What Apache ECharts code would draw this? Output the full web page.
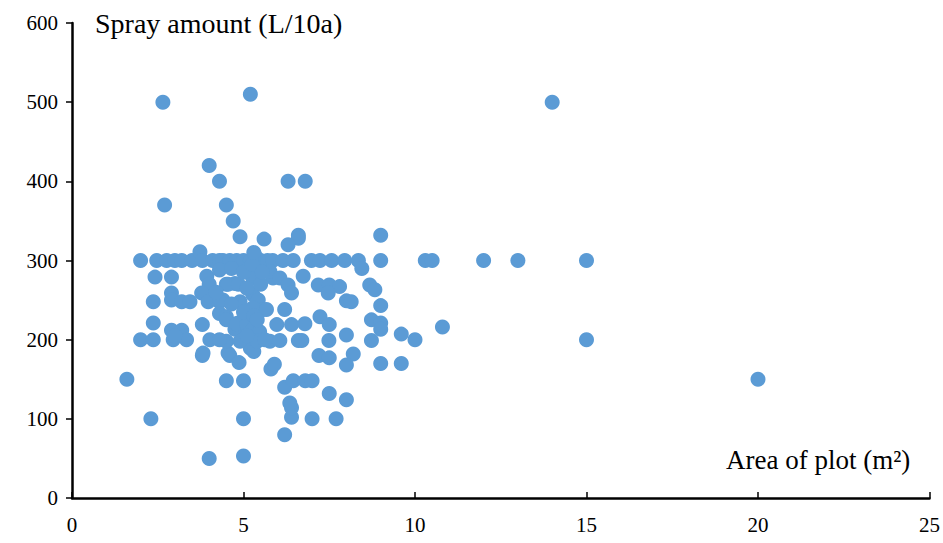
<!DOCTYPE html>
<html>
<head>
<meta charset="utf-8">
<script src="https://cdn.jsdelivr.net/npm/echarts@6/dist/echarts.min.js"></script>
<style>html,body{margin:0;padding:0;background:#fff;}#c{width:943px;height:543px;}</style>
</head>
<body>
<div id="c"></div>
<script>
// Area of plot (m2)
const areaValues = [
  1.6, 2.3, 2.65, 5.2, 14, 4.0, 4.3, 6.3, 6.8, 2.7, 4.5, 4.7, 4.9, 5.6, 6.6, 6.6, 9.0, 6.3,
  20, 15, 15, 13, 12, 10.3, 10.5, 10.8, 10.0, 9.6, 9.6, 9.0, 4.0, 5.0, 5.0, 6.2, 7.0, 7.7,
  6.4, 6.4, 6.35, 8.0, 7.5, 6.2, 6.45, 6.8, 7.0, 4.5, 5.0, 5.8, 5.9, 7.2, 7.5, 8.2, 8.0,
  3.8, 4.6, 4.87, 5.2, 5.3, 3.82, 4.55,
  2.0, 2.47, 2.76, 3.0, 3.2, 3.5, 3.73, 3.8, 4.1, 4.3, 4.4, 4.6, 4.8, 5.0, 5.2, 5.35, 5.5, 5.7,
  5.85, 6.15, 6.45, 6.98, 7.23, 7.57, 7.95, 8.35, 9.0, 8.45,
  2.42, 2.9, 3.93, 4.5, 4.75, 4.0, 4.55, 4.85, 5.27, 5.86, 5.77, 6.06, 6.74, 6.3, 6.4, 7.18,
  7.5, 7.8, 7.47, 8.68, 8.83,
  2.37, 2.9, 2.9, 3.2, 3.44, 3.78, 3.97, 4.4, 4.3, 4.9, 5.27, 5.43, 8.0, 8.14, 9.0, 5.57,
  5.27, 5.67, 6.2,
  2.37, 2.9, 3.2, 3.8, 4.3, 4.5, 4.85, 4.75, 4.5, 4.8, 5.1, 5.27, 5.47, 5.97, 6.4, 6.79,
  7.23, 7.5, 8.0, 8.73, 9.0, 9.0,
  2.0, 2.37, 2.95, 3.34, 4.02, 4.5, 4.9, 5.4, 5.77, 5.62, 6.06, 6.6, 6.7, 7.49, 8.73, 3.0, 4.3,
  4.3, 4.65, 5.0, 5.1, 5.5, 5.0, 5.3, 4.2, 4.65, 5.1, 5.4, 5.25, 5.3, 5.55
];
// Spray amount (L/10a)
const sprayValues = [
  150, 100, 500, 510, 500, 420, 400, 400, 400, 370, 370, 350, 330, 327, 332, 328, 332, 320,
  150, 300, 200, 300, 300, 300, 300, 216, 200, 207, 170, 170, 50, 53, 100, 80, 100, 100,
  102, 114, 120, 124, 132, 140, 148, 148, 148, 148, 148, 163, 169, 180, 177, 182, 168,
  180, 180, 171, 189, 185, 183, 183,
  300, 300, 300, 300, 300, 300, 311, 300, 300, 300, 300, 300, 300, 300, 300, 305, 300, 300,
  300, 300, 300, 300, 300, 300, 300, 300, 300, 290,
  279, 279, 280, 270, 271, 270, 270, 270, 278, 278, 286, 278, 280, 269, 259, 269,
  269, 267, 259, 269, 263,
  248, 259, 250, 248, 248, 259, 248, 250, 248, 248, 257, 250, 249, 248, 243, 238,
  240, 238, 238,
  221, 212, 212, 219, 233, 229, 221, 213, 225, 220, 219, 213, 210, 219, 219, 220,
  229, 219, 206, 225, 221, 213,
  200, 200, 200, 200, 200, 198, 198, 198, 198, 200, 199, 199, 199, 199, 199, 205, 200,
  288, 290, 285, 265, 270, 235, 230, 260, 245, 205, 225, 295, 310, 285
];
const xTicks = [0, 25, 5];
const yTicks = [0, 600, 100];
const yTitle = 'Spray amount (L/10a)';
const xTitle = 'Area of plot (m²)';

const points = areaValues.map((x, i) => [x, sprayValues[i]]);
const font = 'Liberation Serif';

const chart = echarts.init(document.getElementById('c'), null, {renderer: 'svg'});
chart.setOption({
  animation: false,
  backgroundColor: '#fff',
  textStyle: {fontFamily: font},
  grid: {left: 72, right: 13, top: 23, bottom: 45, containLabel: false},
  xAxis: {
    type: 'value', min: xTicks[0], max: xTicks[1], interval: xTicks[2],
    axisLine: {show: true, lineStyle: {color: '#000', width: 2.5}},
    axisTick: {show: true, inside: true, length: 6, lineStyle: {color: '#000', width: 1.5}},
    axisLabel: {color: '#000', fontFamily: font, fontSize: 21, margin: 16,
      textStyle: {fontFamily: font}},
    splitLine: {show: false}
  },
  yAxis: {
    type: 'value', min: yTicks[0], max: yTicks[1], interval: yTicks[2],
    axisLine: {show: true, lineStyle: {color: '#000', width: 2.5}},
    axisTick: {show: true, inside: false, length: 6, lineStyle: {color: '#000', width: 1.5}},
    axisLabel: {color: '#000', fontFamily: font, fontSize: 21, margin: 14,
      textStyle: {fontFamily: font}},
    splitLine: {show: false}
  },
  series: [{
    type: 'scatter',
    data: points,
    symbol: 'circle',
    symbolSize: 15,
    itemStyle: {color: '#5B9BD5', opacity: 1}
  }],
  graphic: [
    {type: 'text', left: 95, top: 9, style: {text: yTitle, fontFamily: font, fontSize: 28, fill: '#000'}},
    {type: 'text', left: 726, top: 446, style: {text: xTitle, fontFamily: font, fontSize: 27, fill: '#000'}}
  ]
});
</script>
</body>
</html>
